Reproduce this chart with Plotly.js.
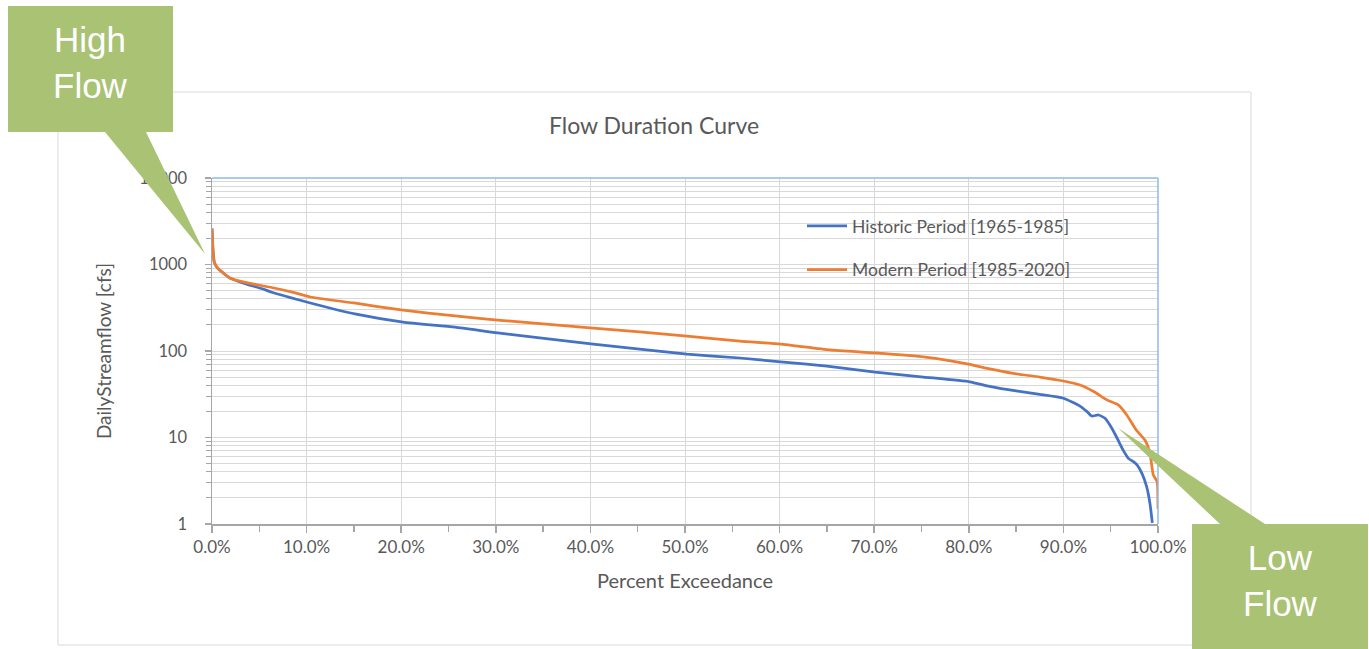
<!DOCTYPE html>
<html>
<head>
<meta charset="utf-8">
<script src="https://cdn.plot.ly/plotly-3.0.1.min.js"></script>
<style>html,body{margin:0;padding:0;background:#fff;}#chart{width:1369px;height:649px;}</style>
</head>
<body>
<div id="chart"></div>
<script>
// ---- data (exceedance as fraction, flow in cfs) ----
const seriesNames = ["Historic Period [1965-1985]", "Modern Period [1985-2020]"];

const historicExceedance = [0, 0.001, 0.0025, 0.006, 0.01, 0.019, 0.035, 0.053, 0.063, 0.08, 0.104, 0.151, 0.202, 0.257, 0.302, 0.403, 0.502, 0.558, 0.601, 0.65, 0.701, 0.752, 0.801, 0.822, 0.85, 0.875, 0.90, 0.9175, 0.925, 0.93, 0.937, 0.944, 0.949, 0.956, 0.963, 0.969, 0.974, 0.978, 0.983, 0.988, 0.9915, 0.994];
const historicFlow = [2600, 1500, 1050, 910, 830, 695, 600, 525, 478, 423, 359, 268, 216, 189, 162, 120, 92, 83, 75, 67, 57, 50, 44, 39, 34.5, 31.5, 28.4, 23.1, 19.9, 17.7, 18.2, 16.7, 14.0, 10.2, 7.2, 5.7, 5.25, 4.8, 3.85, 2.7, 1.73, 1.03];

const modernExceedance = [0, 0.001, 0.0025, 0.006, 0.01, 0.019, 0.035, 0.053, 0.063, 0.088, 0.104, 0.15, 0.20, 0.257, 0.302, 0.403, 0.502, 0.558, 0.601, 0.653, 0.701, 0.754, 0.801, 0.822, 0.847, 0.875, 0.90, 0.9175, 0.932, 0.946, 0.958, 0.967, 0.977, 0.986, 0.9915, 0.995, 0.999, 1.0];
const modernFlow = [2600, 1500, 1050, 910, 830, 700, 620, 568, 542, 470, 421, 359, 298, 254, 228, 184, 149, 130, 120, 103, 95, 85, 70, 62, 55, 50, 45, 40.5, 34, 27.2, 23.8, 18.2, 12.2, 9.4, 6.6, 3.7, 3.1, 1.5];

const xTickValues = [0, 0.1, 0.2, 0.3, 0.4, 0.5, 0.6, 0.7, 0.8, 0.9, 1.0];
const yTickValues = [1, 10, 100, 1000, 10000];
const yTickLabels = ["1", "10", "100", "1000", "10000"];

// ---- layout helpers (pixel -> paper) ----
const W = 1369, H = 649;
const PL = 212, PR = 1158, PT = 178, PB = 524;
const px = v => (v - PL) / (PR - PL);
const py = v => (PB - v) / (PB - PT);
const pathOf = pts => 'M' + pts.map(p => px(p[0]).toFixed(5) + ',' + py(p[1]).toFixed(5)).join(' L') + ' Z';

const grey = '#595959';
const gridC = '#D9D9D9';
const green = '#A9C274';
const font = 'Lato, "Open Sans", sans-serif';

const traces = [
  {x: historicExceedance, y: historicFlow, name: seriesNames[0], type: 'scatter', mode: 'lines',
   line: {color: '#4472C4', width: 2.75, shape: 'spline', smoothing: 0.5}, legendgroup: 'a'},
  {x: modernExceedance, y: modernFlow, name: seriesNames[1], type: 'scatter', mode: 'lines',
   line: {color: '#ED7D31', width: 2.75, shape: 'spline', smoothing: 0.5}, legendgroup: 'b'}
];

const layout = {
  width: W, height: H,
  margin: {l: PL, r: W - PR, t: PT, b: H - PB, pad: 0},
  paper_bgcolor: '#fff', plot_bgcolor: '#fff',
  font: {family: font, color: grey, size: 16},
  title: {text: 'Flow Duration Curve', x: px(654), xref: 'paper', xanchor: 'center',
          y: 1 - 126 / H, yanchor: 'middle', font: {size: 23, color: grey, family: font}},
  xaxis: {
    type: 'linear', range: [0, 1], tickvals: xTickValues, tickformat: '.1%',
    showgrid: true, gridcolor: gridC, gridwidth: 1,
    showline: true, linecolor: '#A6A6A6', linewidth: 1.5,
    ticks: 'outside', ticklen: 7, tickcolor: '#A6A6A6', tickwidth: 1.5,
    minor: {dtick: 0.05, ticks: 'outside', ticklen: 6, tickcolor: '#A6A6A6', tickwidth: 1.5, showgrid: false},
    tickfont: {size: 17, color: grey, family: font},
    zeroline: false, fixedrange: true,
    title: {text: 'Percent Exceedance', font: {size: 20, color: grey, family: font}, standoff: 18}
  },
  yaxis: {
    type: 'log', range: [0, 4], tickvals: yTickValues, ticktext: yTickLabels,
    showgrid: true, gridcolor: gridC, gridwidth: 1,
    showline: true, linecolor: '#A6A6A6', linewidth: 1.5,
    ticks: 'outside', ticklen: 6, tickcolor: '#A6A6A6', tickwidth: 1.5,
    minor: {dtick: 'D1', ticks: 'outside', ticklen: 5, tickcolor: '#A6A6A6', tickwidth: 1, showgrid: true, gridcolor: gridC, gridwidth: 1},
    tickfont: {size: 16.5, color: grey, family: font},
    ticklabelstandoff: 14,
    zeroline: false, fixedrange: true,
    title: {text: 'DailyStreamflow [cfs]', font: {size: 19, color: grey, family: font}, standoff: 22}
  },
  legend: {
    x: px(802), xanchor: 'left', y: py(208), yanchor: 'top',
    bgcolor: 'rgba(0,0,0,0)', borderwidth: 0,
    font: {size: 17.5, color: grey, family: font},
    traceorder: 'grouped', tracegroupgap: 18, itemwidth: 40
  },
  showlegend: true,
  shapes: [
    // legend box
    {type: 'rect', xref: 'paper', yref: 'paper', x0: px(745), x1: px(1140), y0: py(293), y1: py(205),
     fillcolor: '#ffffff', line: {width: 0}, layer: 'between'},
    // chart frame
    {type: 'rect', xref: 'paper', yref: 'paper', x0: px(58), x1: px(1251), y0: py(645), y1: py(92),
     line: {color: '#D9D9D9', width: 1}, fillcolor: 'rgba(0,0,0,0)', layer: 'below'},
    // top and right plot border (light blue)
    {type: 'line', xref: 'paper', yref: 'paper', x0: 0, x1: 1, y0: 1, y1: 1, line: {color: '#8DBBE8', width: 1.5}, layer: 'above'},
    {type: 'line', xref: 'paper', yref: 'paper', x0: 1, x1: 1, y0: 0, y1: 1, line: {color: '#8DBBE8', width: 1.5}, layer: 'above'},
    // High Flow callout
    {type: 'path', xref: 'paper', yref: 'paper', layer: 'above', fillcolor: green, line: {width: 0},
     path: pathOf([[8, 6], [173, 6], [173, 132], [146, 132], [205, 254], [105, 132], [8, 132]])},
    // Low Flow callout
    {type: 'path', xref: 'paper', yref: 'paper', layer: 'above', fillcolor: green, line: {width: 0},
     path: pathOf([[1192, 524], [1220, 524], [1118, 428], [1265, 524], [1368, 524], [1368, 649], [1192, 649]])}
  ],
  annotations: [
    {text: 'High<br>Flow', xref: 'paper', yref: 'paper', x: px(90), y: py(63), xanchor: 'center', yanchor: 'middle',
     showarrow: false, font: {family: '"Liberation Sans", Arial, sans-serif', size: 35, color: '#ffffff'}},
    {text: 'Low<br>Flow', xref: 'paper', yref: 'paper', x: px(1280), y: py(580), xanchor: 'center', yanchor: 'middle',
     showarrow: false, font: {family: '"Liberation Sans", Arial, sans-serif', size: 35, color: '#ffffff'}}
  ]
};

Plotly.newPlot('chart', traces, layout, {displayModeBar: false, staticPlot: true});
</script>
</body>
</html>
